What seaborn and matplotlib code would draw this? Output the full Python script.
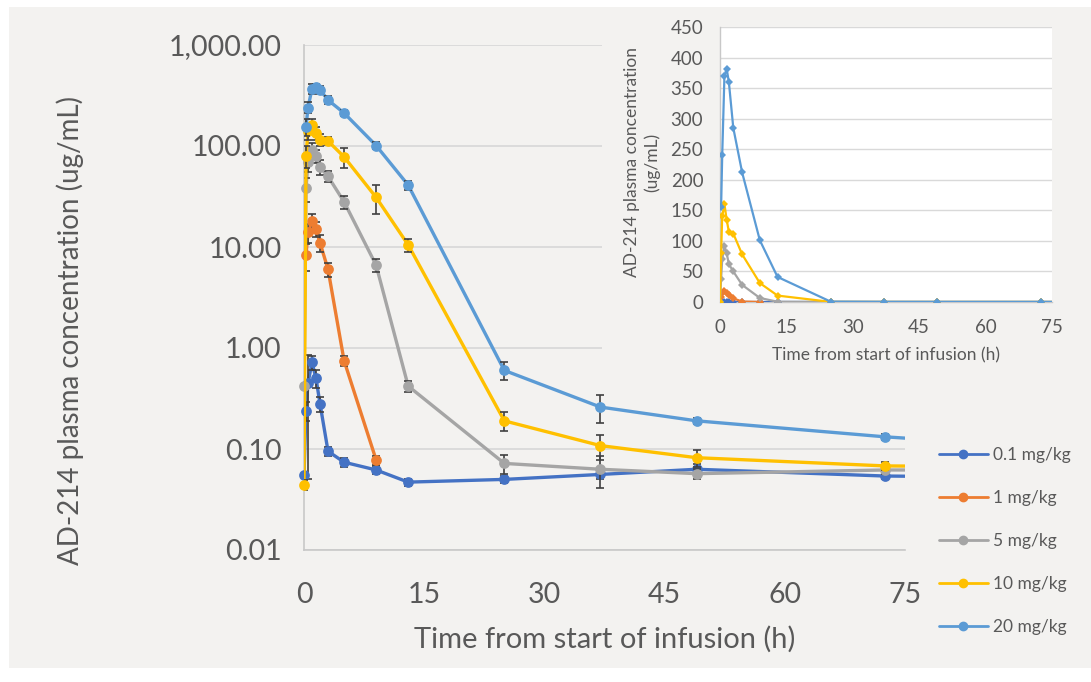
import numpy as np
import pandas as pd
import matplotlib
matplotlib.use("Agg")
import matplotlib.pyplot as plt
import seaborn as sns
from matplotlib.lines import Line2D
from matplotlib.patches import Rectangle
from matplotlib.ticker import FixedLocator, FuncFormatter, NullLocator

# ---------------- data ----------------
times = [0, 0.25, 0.5, 1, 1.5, 2, 3, 5, 9, 13, 25, 37, 49, 72.5, 96]
dose_labels = ["0.1 mg/kg", "1 mg/kg", "5 mg/kg", "10 mg/kg", "20 mg/kg"]
nan = np.nan
conc_01 = [0.055, 0.24, 0.45, 0.72, 0.50, 0.28, 0.095, 0.074, 0.062, 0.047, 0.050, 0.056, 0.063, 0.054, 0.052]
conc_1 = [nan, 8.3, 14, 18, 15, 11, 6.0, 0.75, 0.078, nan, nan, nan, nan, nan, nan]
conc_5 = [0.42, 38, 70, 92, 80, 62, 50, 28, 6.6, 0.42, 0.072, 0.063, 0.057, 0.062, 0.062]
conc_10 = [0.044, 80, 140, 160, 135, 115, 112, 78, 31, 10.5, 0.19, 0.108, 0.082, 0.068, 0.066]
conc_20 = [nan, 155, 240, 370, 382, 360, 285, 212, 101, 41, 0.60, 0.26, 0.19, 0.132, 0.10]
sd_01 = [nan, 0.05, 0.40, 0.12, 0.10, 0.05, 0.01, 0.008, 0.006, 0.004, 0.004, 0.005, 0.008, 0.004, nan]
sd_1 = [nan, 2.5, 3, 3, 2.5, 2, 1, 0.08, 0.008, nan, nan, nan, nan, nan, nan]
sd_5 = [nan, 10, 15, 15, 12, 10, 6, 4, 1, 0.05, 0.016, 0.022, 0.006, 0.006, nan]
sd_10 = [0.005, 20, 25, 25, 20, 15, 10, 17, 10, 1.5, 0.04, 0.03, 0.015, 0.006, nan]
sd_20 = [nan, 30, 30, 40, 30, 30, 25, 15, 8, 4, 0.12, 0.08, 0.015, 0.01, nan]
main_yticks = [0.01, 0.1, 1, 10, 100, 1000]
x_ticks = [0, 15, 30, 45, 60, 75]
inset_yticks = [0, 50, 100, 150, 200, 250, 300, 350, 400, 450]

colors = ["#4472C4", "#ED7D31", "#A5A5A5", "#FFC000", "#5B9BD5"]
BG = "#f3f2f0"
TXT = "#595959"
GRID = "#d9d9d9"

conc_all = [conc_01, conc_1, conc_5, conc_10, conc_20]
sd_all = [sd_01, sd_1, sd_5, sd_10, sd_20]
rows = []
for lab, cc, ss in zip(dose_labels, conc_all, sd_all):
    for t, c, s in zip(times, cc, ss):
        if not np.isnan(c):
            rows.append({"dose": lab, "time": t, "conc": c, "sd": s})
df = pd.DataFrame(rows)

# ---------------- figure ----------------
sns.set_theme(style="white")
plt.rcParams['font.family'] = ['Lato', 'DejaVu Sans']

W, H = 1091, 682
fig = plt.figure(figsize=(W / 100, H / 100), dpi=100, facecolor="white")
fig.patches.append(Rectangle((9 / W, 1 - 668 / H), 1 - 9 / W, (668 - 7) / H,
                             transform=fig.transFigure, facecolor=BG,
                             edgecolor="none", zorder=-10))


def box(l, t, r, b):
    return [l / W, 1 - b / H, (r - l) / W, (b - t) / H]


ax = fig.add_axes(box(304, 45, 905, 550))
ax.set_facecolor("none")

for i, (lab, col) in enumerate(zip(dose_labels, colors)):
    d = df[df["dose"] == lab]
    sns.lineplot(data=d, x="time", y="conc", color=col, lw=2.4, ax=ax,
                 estimator=None, sort=True, legend=False, zorder=3 + i)
    dv = d[d["time"] <= 75]
    de = dv[dv["sd"].notna()]
    ax.errorbar(de["time"], de["conc"], yerr=de["sd"], fmt="none",
                ecolor="#404040", elinewidth=1.2, capsize=3, capthick=1.2,
                zorder=3 + i)
    sns.scatterplot(data=dv, x="time", y="conc", color=col, s=60,
                    linewidth=0, ax=ax, clip_on=False, legend=False,
                    zorder=3.5 + i)

ax.set_yscale("log")
ax.set_ylim(0.01, 1000)
ax.set_xlim(0, 75)
ax.yaxis.set_major_locator(FixedLocator(main_yticks))
ax.yaxis.set_minor_locator(NullLocator())
ax.yaxis.set_major_formatter(FuncFormatter(lambda v, p: f"{v:,.2f}"))
ax.xaxis.set_major_locator(FixedLocator(x_ticks))
ax.yaxis.grid(True, color=GRID, lw=1.3)
ax.xaxis.grid(False)
for s in ["top", "right"]:
    ax.spines[s].set_visible(False)
for s in ["left", "bottom"]:
    ax.spines[s].set_color("#c8c8c8")
    ax.spines[s].set_linewidth(1.2)
ax.tick_params(axis="both", length=0, labelsize=20.5, colors=TXT)
ax.tick_params(axis="x", pad=23)
ax.tick_params(axis="y", pad=16)
ax.set_xlabel("Time from start of infusion (h)", fontsize=21, color=TXT)
ax.set_ylabel("AD-214 plasma concentration (ug/mL)", fontsize=20, color=TXT)
ax.xaxis.set_label_coords(0.501, -0.15)
ax.yaxis.set_label_coords(-0.366, 0.434)

# ---------------- inset ----------------
bgax = fig.add_axes(box(602, 7, 1091, 375))
bgax.set_facecolor(BG)
bgax.set_xticks([])
bgax.set_yticks([])
for s in bgax.spines.values():
    s.set_visible(False)

ax2 = fig.add_axes(box(720, 27, 1052, 302))
ax2.set_facecolor("white")
for i, (lab, col) in enumerate(zip(dose_labels, colors)):
    d = df[df["dose"] == lab]
    sns.lineplot(data=d, x="time", y="conc", color=col, lw=1.6, ax=ax2,
                 estimator=None, sort=True, legend=False, marker="D",
                 markersize=4, markeredgewidth=0, zorder=3 + i)
ax2.set_xlim(0, 75)
ax2.set_ylim(0, 450)
ax2.yaxis.set_major_locator(FixedLocator(inset_yticks))
ax2.xaxis.set_major_locator(FixedLocator(x_ticks))
ax2.yaxis.grid(True, color=GRID, lw=1.0)
ax2.xaxis.grid(False)
for s in ["top", "right"]:
    ax2.spines[s].set_visible(False)
for s in ["left", "bottom"]:
    ax2.spines[s].set_color("#c8c8c8")
    ax2.spines[s].set_linewidth(1.0)
ax2.tick_params(axis="both", length=0, labelsize=13.5, colors=TXT, pad=12)
ax2.set_xlabel("Time from start of infusion (h)", fontsize=12.5, color=TXT)
ax2.set_ylabel("AD-214 plasma concentration\n(ug/mL)", fontsize=12.5, color=TXT,
               linespacing=1.25)
ax2.xaxis.set_label_coords(0.5, -0.164)
ax2.yaxis.set_label_coords(-0.181, 0.509)

# ---------------- legend ----------------
handles = [Line2D([], [], color=c, lw=2, marker="o", markersize=6) for c in colors]
fig.legend(handles, dose_labels, loc="upper left",
           bbox_to_anchor=(932 / W, 1 - 440 / H), frameon=False, fontsize=12.5,
           labelcolor=TXT, handlelength=2.8, handletextpad=0.3,
           labelspacing=1.55, borderaxespad=0)

fig.savefig("out.png", dpi=100, facecolor=fig.get_facecolor())
